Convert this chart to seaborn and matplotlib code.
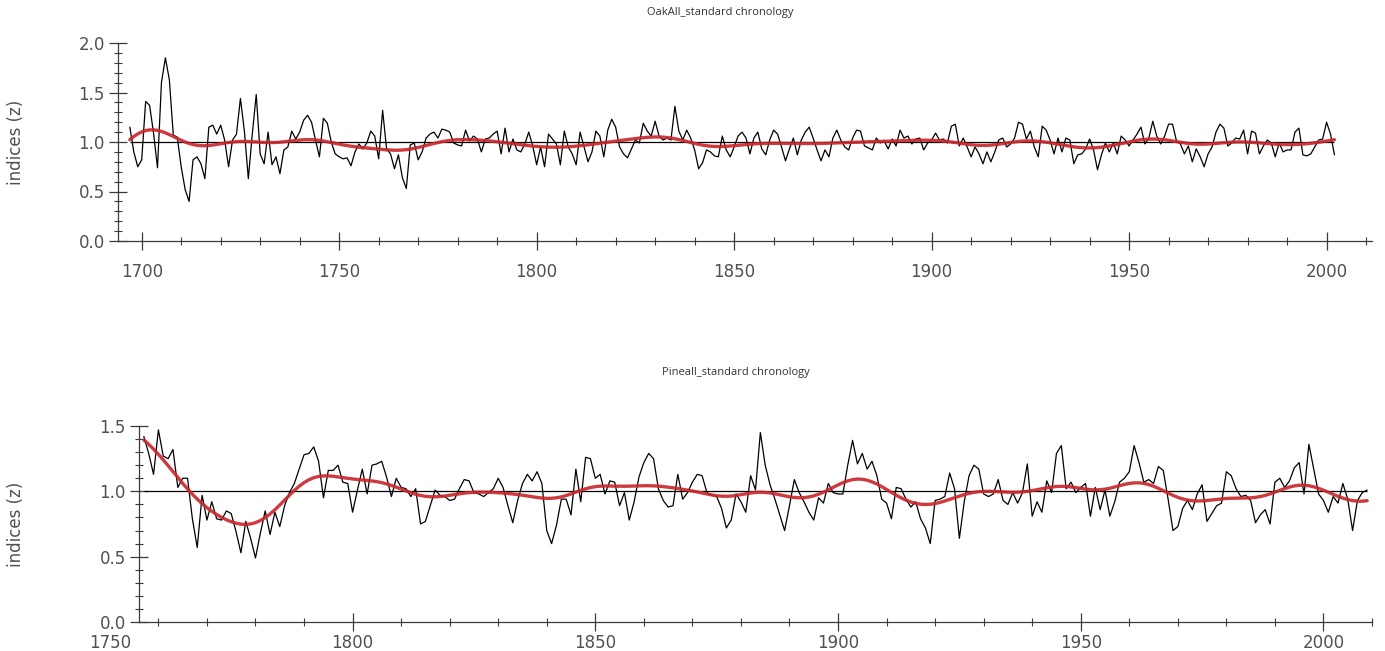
import numpy as np
import pandas as pd
import matplotlib
matplotlib.use("Agg")
import matplotlib.pyplot as plt
import seaborn as sns
from matplotlib.ticker import MultipleLocator, FixedLocator, FormatStrFormatter

# ---- ring-width index chronologies (one value per year) ----
oak_first_year = 1697
oak_index = [
    # 1697-1749
    1.15, 0.90, 0.75, 0.82, 1.41, 1.37, 1.09, 0.74, 1.60, 1.85,
    1.63, 1.07, 1.05, 0.75, 0.52, 0.40, 0.82, 0.85, 0.78, 0.63,
    1.15, 1.17, 1.08, 1.17, 1.02, 0.75, 1.02, 1.08, 1.44, 1.11,
    0.63, 1.08, 1.48, 0.88, 0.78, 1.10, 0.77, 0.85, 0.68, 0.92,
    0.95, 1.11, 1.03, 1.10, 1.22, 1.27, 1.20, 1.02, 0.85, 1.24,
    1.19, 1.00, 0.88,
    # 1750-1800
    0.85, 0.83, 0.84, 0.76, 0.90, 0.98, 0.93, 0.99, 1.11, 1.06,
    0.83, 1.32, 0.93, 0.88, 0.73, 0.87, 0.64, 0.53, 0.97, 0.99,
    0.82, 0.90, 1.04, 1.08, 1.10, 1.04, 1.13, 1.12, 1.10, 0.99,
    0.97, 0.96, 1.12, 1.01, 1.06, 1.03, 0.90, 1.03, 1.04, 1.08,
    1.11, 0.88, 1.14, 0.90, 1.03, 0.92, 0.90, 0.98, 1.10, 0.96,
    0.77,
    # 1801-1848
    0.95, 0.75, 1.08, 1.03, 0.98, 0.77, 1.11, 0.95, 0.88, 0.77,
    1.10, 0.95, 0.80, 0.90, 1.11, 1.06, 0.85, 1.12, 1.23, 1.15,
    0.95, 0.88, 0.84, 0.93, 1.02, 0.99, 1.19, 1.11, 1.06, 1.21,
    1.06, 1.02, 1.04, 1.02, 1.36, 1.11, 1.02, 1.12, 1.04, 0.92,
    0.73, 0.79, 0.92, 0.90, 0.86, 0.85, 1.06, 0.92,
    # 1849-1899
    0.85, 0.95, 1.06, 1.10, 1.04, 0.88, 1.04, 1.10, 0.93, 0.87,
    1.02, 1.12, 1.08, 0.95, 0.81, 0.93, 1.04, 0.87, 1.02, 1.10,
    1.15, 1.04, 0.92, 0.81, 0.92, 0.85, 1.04, 1.12, 1.02, 0.95,
    0.92, 1.04, 1.12, 1.11, 0.96, 0.94, 0.92, 1.04, 0.99, 1.01,
    0.93, 1.03, 0.96, 1.12, 1.04, 1.06, 0.98, 1.03, 1.04, 0.92,
    0.99,
    # 1900-1949
    1.02, 1.09, 1.02, 1.03, 0.99, 1.16, 1.18, 0.96, 1.04, 0.95,
    0.85, 0.95, 0.88, 0.78, 0.90, 0.80, 0.90, 1.02, 1.04, 0.95,
    0.98, 1.04, 1.20, 1.18, 1.03, 1.11, 0.95, 0.85, 1.16, 1.12,
    1.02, 0.88, 1.04, 0.90, 1.04, 1.02, 0.78, 0.87, 0.88, 0.93,
    1.03, 0.92, 0.72, 0.87, 0.99, 0.90, 0.99, 0.88, 1.06, 1.02,
    # 1950-2002
    0.96, 1.02, 1.08, 1.15, 0.98, 1.04, 1.21, 1.06, 0.98, 1.06,
    1.18, 1.18, 1.01, 0.98, 0.88, 0.96, 0.80, 0.93, 0.85, 0.75,
    0.88, 0.95, 1.10, 1.18, 1.14, 0.96, 0.99, 1.04, 1.03, 1.12,
    0.88, 1.11, 1.09, 0.88, 0.96, 1.02, 0.99, 0.85, 0.99, 0.90,
    0.92, 0.92, 1.10, 1.14, 0.87, 0.86, 0.88, 0.95, 1.02, 1.03,
    1.20, 1.08, 0.87,
]

pine_first_year = 1757
pine_index = [
    1.42, 1.29, 1.13, 1.47, 1.27, 1.25, 1.32, 1.03, 1.10, 1.10,
    0.79, 0.57, 0.97, 0.78, 0.92, 0.79, 0.78, 0.85, 0.83, 0.69,
    0.53, 0.77, 0.64, 0.49, 0.68, 0.85, 0.67, 0.84, 0.73, 0.89,
    0.99, 1.06, 1.17, 1.28, 1.29, 1.34, 1.23, 0.95, 1.16, 1.16,
    1.20, 1.07,
    1.06, 0.84, 1.01, 1.17, 0.98, 1.20, 1.21, 1.23, 1.11, 0.96,
    1.10, 1.03, 1.02, 0.96, 1.02, 0.75, 0.77, 0.89, 1.01, 0.97,
    0.96, 0.93, 0.94, 1.02, 1.09, 1.08, 0.99, 0.98, 0.96, 0.99,
    1.02, 1.10, 1.03, 0.89, 0.76, 0.93, 1.06, 1.13, 1.08, 1.15,
    1.06, 0.70,
    0.60, 0.74, 0.94, 0.94, 0.82, 1.17, 0.92, 1.26, 1.25, 1.10,
    1.13, 0.98, 1.08, 1.07, 0.89, 0.99, 0.78, 0.92, 1.11, 1.22,
    1.29, 1.25, 1.02, 0.93, 0.88, 0.89, 1.13, 0.94, 0.99, 1.07,
    1.13, 1.12, 0.99, 0.97, 0.96, 0.87, 0.72, 0.78, 0.98, 0.92,
    0.84, 1.12,
    1.01, 1.45, 1.20, 1.05, 0.94, 0.82, 0.70, 0.89, 1.09, 0.99,
    0.92, 0.84, 0.78, 0.95, 0.91, 1.06, 0.99, 0.98, 0.98, 1.20,
    1.39, 1.21, 1.29, 1.17, 1.23, 1.12, 0.94, 0.91, 0.79, 1.03,
    1.02, 0.94, 0.88, 0.92, 0.79, 0.72, 0.60, 0.93, 0.94, 0.96,
    1.14, 1.02, 0.64,
    0.92, 1.12, 1.20, 1.17, 0.98, 0.96, 0.98, 1.09, 0.93, 0.90,
    0.99, 0.91, 0.99, 1.21, 0.81, 0.92, 0.84, 1.08, 0.99, 1.29,
    1.35, 1.02, 1.07, 0.99, 1.03, 1.06, 0.81, 1.03, 0.86, 1.01,
    0.81, 0.92, 1.07, 1.10, 1.15, 1.35, 1.22, 1.07, 1.09, 1.06,
    1.19,
    1.16, 0.94, 0.70, 0.73, 0.87, 0.93, 0.86, 0.98, 1.05, 0.77,
    0.83, 0.89, 0.91, 1.15, 1.12, 1.02, 0.96, 0.97, 0.93, 0.76,
    0.82, 0.86, 0.75, 1.07, 1.10, 1.03, 1.08, 1.18, 1.22, 0.98,
    1.36, 1.17, 0.98, 0.93, 0.84, 0.96, 0.91, 1.06, 0.94, 0.70,
    0.93, 0.99, 1.01,
]

oak_title = "OakAll_standard chronology"
pine_title = "Pineall_standard chronology"
y_label = "indices (z)"
oak_xticks = [1700, 1750, 1800, 1850, 1900, 1950, 2000]
pine_xticks = [1750, 1800, 1850, 1900, 1950, 2000]


def spline_like(values, bandwidth):
    """Local-linear Gaussian kernel smoother (stiff trend line)."""
    y = np.asarray(values, dtype=float)
    t = np.arange(len(y), dtype=float)
    out = np.empty_like(y)
    for i, t0 in enumerate(t):
        w = np.exp(-0.5 * ((t - t0) / bandwidth) ** 2)
        X = np.column_stack([np.ones_like(t), t - t0])
        XtW = X.T * w
        beta = np.linalg.solve(XtW @ X, XtW @ y)
        out[i] = beta[0]
    return out


sns.set_style("ticks")
plt.rcParams["font.family"] = ["DejaVu Sans"]

TXT = "#505050"
LINE = "#3a3a3a"
W, H = 1385, 651
fig = plt.figure(figsize=(W / 100, H / 100), dpi=100)

# (title, first year, values, ymax, xlim, y-axis year, axes px box,
#  title px position, bandwidth, major x ticks, x label pad)
panels = [
    (oak_title, oak_first_year, oak_index, 2.0, (1694, 2011.5), 1694,
     (118, 43, 1372, 241), (720, 12), 6.5, oak_xticks, 9),
    (pine_title, pine_first_year, pine_index, 1.5, (1749, 2010), 1756,
     (105, 426, 1372, 622), (736, 372), 5.0, pine_xticks, 2.5),
]

for (title, first, vals, ymax, xl, yaxis_at, (x0, y0, x1, y1), tp, bw,
     xt, xpad) in panels:
    ax = fig.add_axes([x0 / W, 1 - y1 / H, (x1 - x0) / W, (y1 - y0) / H])
    years = np.arange(first, first + len(vals))
    df = pd.DataFrame({"year": years, "index": vals})
    df["trend"] = spline_like(df["index"], bw)

    ax.hlines(1.0, years[0], years[-1], color="black", lw=0.9, zorder=1)
    sns.lineplot(data=df, x="year", y="index", ax=ax, color="black",
                 lw=0.9, zorder=2)
    sns.lineplot(data=df, x="year", y="trend", ax=ax, color="#c8262c",
                 lw=2.4, alpha=0.9, zorder=3)

    ax.set_xlim(*xl)
    ax.set_ylim(0, ymax)
    ax.xaxis.set_major_locator(FixedLocator(xt))
    ax.xaxis.set_minor_locator(FixedLocator(
        [y for y in range(1700, 2011, 10) if y > yaxis_at and y % 50]))
    ax.yaxis.set_major_locator(MultipleLocator(0.5))
    ax.yaxis.set_minor_locator(MultipleLocator(0.1))
    ax.yaxis.set_major_formatter(FormatStrFormatter("%.1f"))
    ax.tick_params(which="both", bottom=True, left=True, top=False,
                   right=False)
    ax.tick_params(which="major", direction="inout", length=13, width=0.9,
                   color=LINE, labelsize=12, labelcolor=TXT, pad=3)
    ax.tick_params(axis="x", which="major", pad=xpad)
    ax.tick_params(which="minor", direction="inout", length=6, width=0.8,
                   color=LINE)
    for s in ("top", "right"):
        ax.spines[s].set_visible(False)
    for s in ("left", "bottom"):
        ax.spines[s].set_color(LINE)
        ax.spines[s].set_linewidth(0.9)
    ax.spines["left"].set_position(("data", yaxis_at))
    ax.spines["bottom"].set_bounds(yaxis_at, xl[1])
    for tick, pos in zip(ax.xaxis.get_major_ticks(), xt):
        if pos < yaxis_at:
            tick.tick1line.set_visible(False)

    ax.set_xlabel("")
    ax.set_ylabel(y_label, fontsize=12, color=TXT)
    ax.yaxis.label.set_verticalalignment("center")
    ax.yaxis.set_label_coords((16 - x0) / (x1 - x0), 0.5)
    fig.text(tp[0] / W, 1 - tp[1] / H, title, ha="center", va="center",
             fontsize=8, color="#333333", fontfamily="Open Sans")

fig.savefig("out.png", dpi=100, facecolor="white")
